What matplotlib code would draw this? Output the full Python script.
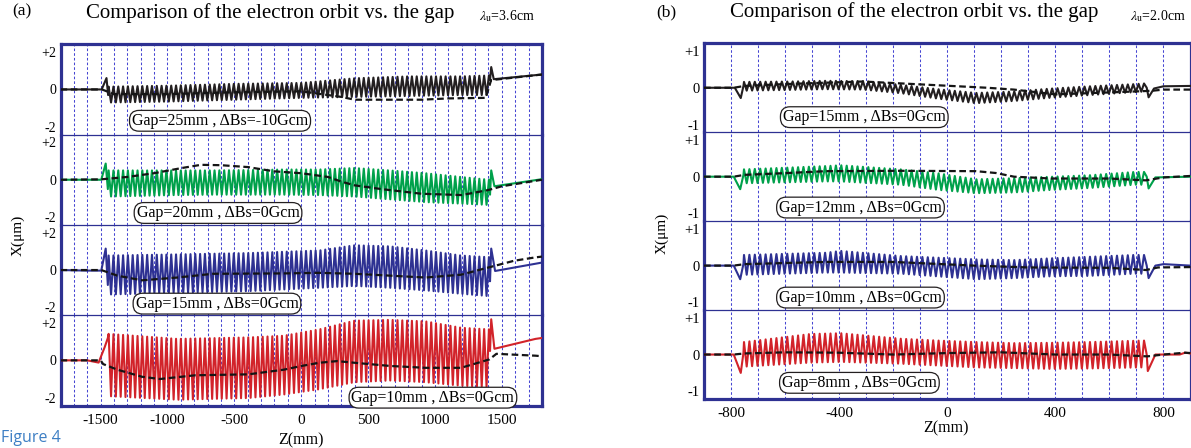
import numpy as np
import matplotlib.pyplot as plt
from matplotlib.ticker import MultipleLocator, FixedLocator

plt.rcParams['font.family'] = ['Liberation Serif', 'DejaVu Serif']
plt.rcParams['mathtext.fontset'] = 'stix'

W, H = 1191, 448

# strip colours, top to bottom
colors = ['#231f20', '#00a14b', '#2e3192', '#d2232a']
frame_color = '#2e3192'
grid_color = '#4646d2'

# ---------------- panel (a): lambda_u = 3.6 cm ----------------
a_half = 18.0  # half undulator period, mm
a_labels = ['Gap=25mm , ΔBs=-10Gcm', 'Gap=20mm , ΔBs=0Gcm',
            'Gap=15mm , ΔBs=0Gcm', 'Gap=10mm , ΔBs=0Gcm']
a_label_pos = [(-607, -1.68), (-622, -1.78), (-630, -1.8), (985, -2.0)]

# entrance of the orbit (before the oscillation)
a_in_z = [[-1800, -1492, -1456, -1444],
          [-1800, -1495, -1462, -1446],
          [-1800, -1600, -1495, -1462, -1446],
          [-1800, -1600, -1515, -1470, -1446]]
a_in_x = [[0, 0, 0.61, -0.3],
          [0, 0, 0.87, -0.5],
          [0, -0.03, -0.03, 1.15, -0.8],
          [0, 0, -0.12, 0.7, 1.2]]

# oscillation envelope
a_env_z = [[-1440, -1000, -500, 0, 400, 800, 1200, 1407],
           [-1440, -925, -660, -395, -130, 135, 400, 665, 930, 1195, 1407],
           [-1440, -925, -395, 135, 400, 665, 930, 1195, 1407],
           [-1440, -925, -395, -130, 135, 400, 665, 930, 1195, 1407]]
a_env_hi = [[0.15, 0.2, 0.3, 0.35, 0.6, 0.7, 0.7, 0.75],
            [0.5, 0.5, 0.5, 0.52, 0.55, 0.55, 0.63, 0.5, 0.35, 0.15, 0.0],
            [0.78, 0.84, 0.91, 1.05, 1.33, 1.27, 1.05, 0.78, 0.69],
            [1.42, 1.15, 1.23, 1.32, 1.66, 2.13, 2.17, 2.09, 1.75, 1.66]]
a_env_lo = [[-0.7, -0.65, -0.55, -0.45, -0.4, -0.35, -0.3, -0.3],
            [-0.9, -0.82, -0.8, -0.8, -0.8, -0.82, -0.9, -1.05, -1.2, -1.28, -1.35],
            [-1.31, -1.22, -1.13, -0.95, -0.85, -0.95, -1.09, -1.27, -1.4],
            [-1.92, -2.11, -2.02, -1.83, -1.55, -1.17, -1.08, -1.17, -1.36, -1.42]]

# exit of the orbit
a_out_z = [[1412, 1421, 1440, 1800],
           [1412, 1421, 1445, 1800],
           [1412, 1421, 1450, 1800],
           [1412, 1421, 1445, 1752, 1800]]
a_out_x = [[0.5, 1.2, 0.55, 0.8],
           [-0.8, 0.5, -0.35, 0.03],
           [-0.6, 1.15, -0.05, 0.4],
           [0.5, 2.2, 0.62, 1.15, 1.2]]

# dashed reference orbit
a_dash_z = [[-1800, -1490, -1400, -1000, -500, 0, 300, 400, 900, 1100, 1380, 1420, 1800],
            [-1800, -1500, -1300, -1100, -900, -750, -600, -400, -200, 0, 200, 300, 400,
             600, 900, 1200, 1400, 1500, 1800],
            [-1800, -1495, -1375, -1190, -925, -660, -130, 135, 400, 930, 1195, 1407,
             1593, 1752, 1800],
            [-1800, -1500, -1481, -1375, -1190, -1057, -792, -395, -130, 3, 135, 268,
             400, 665, 930, 1195, 1407, 1460, 1752, 1800]]
a_dash_x = [[0, 0, -0.25, -0.25, -0.15, -0.1, -0.4, -0.55, -0.55, -0.48, -0.45, 0.5, 0.8],
            [0, 0.02, 0.15, 0.35, 0.62, 0.8, 0.78, 0.68, 0.45, 0.35, 0.15, -0.1, -0.3,
             -0.5, -0.75, -0.82, -0.55, -0.35, 0.0],
            [0, 0, -0.3, -0.55, -0.4, -0.2, -0.18, -0.15, -0.2, -0.4, -0.25, 0.15,
             0.5, 0.68, 0.72],
            [0, 0, -0.2, -0.5, -0.88, -1.0, -0.8, -0.75, -0.5, -0.3, -0.13, -0.04,
             -0.13, -0.3, -0.4, -0.4, 0.05, 0.35, 0.25, 0.22]]

# ---------------- panel (b): lambda_u = 2.0 cm ----------------
b_half = 10.0
b_labels = ['Gap=15mm , ΔBs=0Gcm', 'Gap=12mm , ΔBs=0Gcm',
            'Gap=10mm , ΔBs=0Gcm', 'Gap=8mm , ΔBs=0Gcm']
b_label_pos = [(-307, -0.8), (-321, -0.84), (-321, -0.87), (-325, -0.77)]

b_in_z = [[-900, -786, -764, -754],
          [-900, -790, -766, -754],
          [-900, -790, -766, -754],
          [-900, -790, -764, -754]]
b_in_x = [[0, 0, -0.28, 0.05],
          [0, 0, -0.34, 0.05],
          [0, 0, -0.37, 0.05],
          [0, 0, -0.5, 0.05]]

b_env_z = [[-752, -590, -450, -311, -171, -32, 107, 247, 386, 525, 693, 735],
           [-752, -450, -394, -171, -32, 107, 247, 386, 525, 693, 735],
           [-752, -450, -394, -171, 107, 247, 386, 525, 693, 735],
           [-752, -506, -394, -171, -32, 107, 247, 386, 525, 721, 735]]
b_env_hi = [[0.16, 0.17, 0.19, 0.18, 0.08, -0.04, -0.14, -0.1, -0.02, 0.04, 0.1, 0.12],
            [0.2, 0.29, 0.31, 0.2, 0.09, -0.07, -0.04, 0.0, 0.04, 0.13, 0.13],
            [0.29, 0.35, 0.4, 0.26, 0.17, 0.15, 0.2, 0.24, 0.29, 0.29],
            [0.34, 0.56, 0.58, 0.43, 0.38, 0.34, 0.31, 0.32, 0.34, 0.38, 0.38]]
b_env_lo = [[-0.08, -0.06, -0.04, -0.05, -0.15, -0.3, -0.42, -0.36, -0.27, -0.2, -0.12, -0.1],
            [-0.18, -0.13, -0.13, -0.22, -0.36, -0.45, -0.43, -0.36, -0.31, -0.22, -0.22],
            [-0.25, -0.19, -0.19, -0.22, -0.37, -0.34, -0.29, -0.28, -0.22, -0.22],
            [-0.33, -0.22, -0.2, -0.25, -0.3, -0.35, -0.37, -0.39, -0.38, -0.35, -0.35]]

b_out_z = [[738, 745, 765, 800, 900],
           [738, 745, 770, 900],
           [738, 745, 770, 800, 900],
           [738, 742, 770, 860, 880, 900]]
b_out_x = [[0.0, -0.26, -0.02, 0.04, 0.05],
           [0.0, -0.32, -0.02, 0.0],
           [0.0, -0.34, 0.0, 0.04, 0.0],
           [0.0, -0.45, 0.0, 0.0, 0.05, 0.03]]

b_dash_z = [[-900, -790, -750, -600, -400, -311, 148, 247, 400, 700, 760, 800, 900],
            [-900, -790, -750, -590, -450, -171, 107, 180, 247, 386, 600, 735, 800, 900],
            [-900, -790, -750, -450, -200, 100, 300, 600, 735, 780, 900],
            [-900, -790, -750, -600, -400, -200, 0, 200, 400, 600, 740, 800, 880, 900]]
b_dash_x = [[0, 0, 0.05, 0.1, 0.15, 0.17, 0.0, -0.05, -0.18, -0.1, -0.08, -0.05, -0.05],
            [0, 0, 0.05, 0.1, 0.15, 0.16, 0.15, 0.1, 0.0, -0.05, -0.05, -0.1, -0.02, 0.02],
            [0, 0, 0.04, 0.1, 0.1, 0.0, -0.05, -0.06, -0.12, -0.05, -0.04],
            [0, 0, 0.03, 0.06, 0.05, 0.0, 0.04, 0.06, 0.0, 0.0, -0.05, 0.0, 0.05, 0.04]]


def orbit(in_z, in_x, env_z, env_hi, env_lo, out_z, out_x, half):
    # undulator oscillation drawn between the read-off envelopes
    zz = np.arange(env_z[0], env_z[-1], half)
    hi = np.interp(zz, env_z, env_hi)
    lo = np.interp(zz, env_z, env_lo)
    xx = np.where(np.arange(len(zz)) % 2 == 0, hi, lo)
    return np.concatenate([in_z, zz, out_z]), np.concatenate([in_x, xx, out_x])


def fig_xy(x, y):
    return x / W, 1 - y / H


fig = plt.figure(figsize=(W / 100, H / 100), dpi=100)


def make_panel(box, xlim, ylim, yticks, yticklabels, xticks, half,
               in_z, in_x, env_z, env_hi, env_lo, out_z, out_x, dash_z, dash_x,
               labels, label_pos, ysize, xsize, boxsize):
    x0, x1, y0, y1 = box
    h = (y1 - y0) / 4
    for i in range(4):
        ax = fig.add_axes([x0 / W, 1 - (y0 + (i + 1) * h) / H, (x1 - x0) / W, h / H])
        ax.set_xlim(*xlim)
        ax.set_ylim(*ylim)
        ax.set_xticks(xticks)
        ax.xaxis.set_minor_locator(MultipleLocator(100))
        ax.grid(True, which='both', axis='x', color=grid_color, lw=0.75,
                ls=(0, (2.5, 2)))
        ax.set_axisbelow(True)
        ax.set_yticks(yticks)
        ax.set_yticklabels(yticklabels, fontsize=ysize)
        ax.yaxis.set_minor_locator(FixedLocator([0]))
        ax.tick_params(axis='y', which='major', length=0, pad=3)
        ax.tick_params(axis='y', which='minor', left=False, right=True,
                       length=4, direction='in', color=frame_color, width=1)
        ax.tick_params(axis='x', which='both', length=0)
        if i == 3:
            ax.set_xticklabels([str(t) for t in xticks], fontsize=xsize)
            ax.tick_params(axis='x', pad=6)
        else:
            ax.set_xticklabels([])
        for side in ['left', 'right']:
            ax.spines[side].set_color(frame_color)
            ax.spines[side].set_linewidth(2.3)
        ax.spines['top'].set_color(frame_color)
        ax.spines['top'].set_linewidth(2.3 if i == 0 else 0.9)
        ax.spines['bottom'].set_color(frame_color)
        if i == 3:
            ax.spines['bottom'].set_linewidth(2.3)
        else:
            ax.spines['bottom'].set_visible(False)

        z, x = orbit(in_z[i], in_x[i], env_z[i], env_hi[i], env_lo[i],
                     out_z[i], out_x[i], half)
        ax.plot(z, x, color=colors[i], lw=1.5, zorder=3)
        ax.plot(dash_z[i], dash_x[i], color='#151515', lw=1.6,
                ls=(0, (3, 1.6)), zorder=4)
        ax.text(label_pos[i][0], label_pos[i][1], labels[i], ha='center',
                va='center', fontsize=boxsize, zorder=6,
                bbox=dict(boxstyle='round,pad=0.15,rounding_size=0.6',
                          fc='white', ec='#231f20', lw=0.9))


make_panel((60.5, 541.9, 44.3, 405.5), (-1800, 1800), (-2.42, 2.42),
           [-2, 0, 2], ['-2', '0', '+2'], [-1500, -1000, -500, 0, 500, 1000, 1500],
           a_half, a_in_z, a_in_x, a_env_z, a_env_hi, a_env_lo, a_out_z, a_out_x,
           a_dash_z, a_dash_x, a_labels, a_label_pos, 10, 11, 11.5)

make_panel((704, 1190.5, 43.3, 399), (-900, 900), (-1.21, 1.21),
           [-1, 0, 1], ['-1', '0', '+1'], [-800, -400, 0, 400, 800],
           b_half, b_in_z, b_in_x, b_env_z, b_env_hi, b_env_lo, b_out_z, b_out_x,
           b_dash_z, b_dash_x, b_labels, b_label_pos, 10.5, 11, 11.5)

# titles and axis labels
fig.text(*fig_xy(22, 11), '(a)', ha='center', va='center', fontsize=12.5)
fig.text(*fig_xy(270, 13), 'Comparison of the electron orbit vs. the gap',
         ha='center', va='center', fontsize=15)
fig.text(*fig_xy(507, 16), r'$\lambda_{\rm u}$=3.6cm', ha='center', va='center',
         fontsize=10)
fig.text(*fig_xy(666, 12), '(b)', ha='center', va='center', fontsize=12.5)
fig.text(*fig_xy(914, 12), 'Comparison of the electron orbit vs. the gap',
         ha='center', va='center', fontsize=15)
fig.text(*fig_xy(1158, 16), r'$\lambda_{\rm u}$=2.0cm', ha='center', va='center',
         fontsize=10)

fig.text(*fig_xy(18, 235), 'X(μm)', rotation=90, ha='center', va='center',
         fontsize=11)
fig.text(*fig_xy(662, 233), 'X(μm)', rotation=90, ha='center', va='center',
         fontsize=11)
fig.text(*fig_xy(301, 440), 'Z(mm)', ha='center', va='center', fontsize=11.5)
fig.text(*fig_xy(946, 428), 'Z(mm)', ha='center', va='center', fontsize=11.5)

fig.text(*fig_xy(1, 446), 'Figure 4', ha='left', va='bottom', fontsize=11.5,
         color='#3d7fc4', family=['Open Sans', 'DejaVu Sans'])

fig.savefig('out.png', dpi=100)
